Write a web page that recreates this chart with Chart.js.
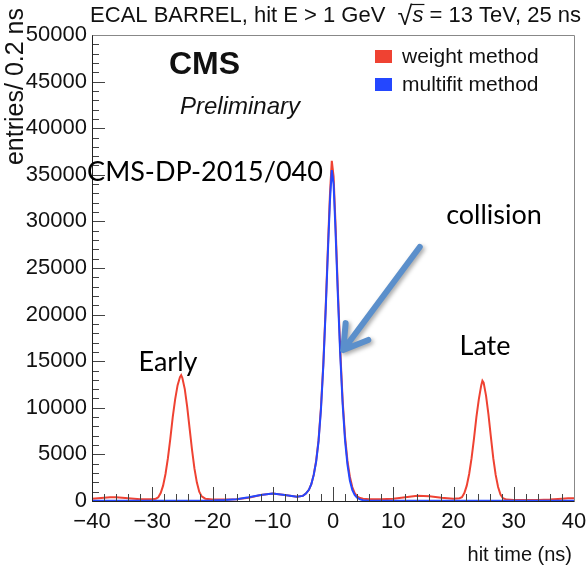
<!DOCTYPE html>
<html>
<head>
<meta charset="utf-8">
<script src="https://cdn.jsdelivr.net/npm/chart.js@4.4.0/dist/chart.umd.min.js"></script>
<style>
  html, body { margin: 0; padding: 0; background: #fff; }
  #wrap { width: 587px; height: 571px; position: relative; }
</style>
</head>
<body>
<div id="wrap"><canvas id="hitTimeChart"></canvas></div>
<script>
// hit time distribution, ECAL barrel
var weightTimes = [
  -40, -39, -38, -37, -36, -35, -34, -33, -32, -31, -30, -29.4,
  -29, -28.6, -28.2, -27.8, -27.4, -27, -26.6, -26.2, -25.8, -25.4, -25.2, -25, -24.6, -24.2,
  -23.8, -23.4, -23, -22.6, -22.2, -21.8, -21.2, -20, -18, -16, -14, -12, -10, -8, -6,
  -5, -4.5, -4, -3.6, -3.2, -2.8, -2.4, -2, -1.6, -1.2, -0.8, -0.5, -0.2,
  0.1, 0.4, 0.8, 1.2, 1.6, 2, 2.4, 2.8, 3.2, 3.6, 4, 4.5, 5, 6, 8, 10, 12, 14, 16, 18, 20,
  21, 21.4, 21.8, 22.2, 22.6, 23, 23.4, 23.8, 24.2, 24.6, 24.8, 25, 25.4, 25.8, 26.2, 26.6,
  27, 27.4, 27.8, 28.2, 28.8, 30, 32, 34, 36, 38, 39, 40
];
var weightCounts = [
  250, 300, 350, 400, 400, 350, 300, 250, 200, 200, 200, 250,
  400, 850, 1650, 2900, 4600, 6700, 9000, 10900, 12400, 13300, 13500, 13200, 12000, 10100,
  7800, 5500, 3500, 2000, 1000, 500, 250, 150, 150, 200, 350, 650, 800, 650, 450,
  550, 800, 1200, 1800, 2800, 4300, 6500, 10000, 14800, 21000, 28000, 33000, 36500,
  34800, 30000, 22800, 16200, 10800, 6900, 4300, 2600, 1500, 850, 500, 320, 250, 200, 200, 250, 400, 550, 500, 350, 250,
  300, 400, 850, 1650, 2900, 4600, 6700, 9000, 10900, 12400, 12900, 12700, 11300, 9300, 6900, 4600,
  2800, 1500, 700, 300, 150, 100, 100, 100, 150, 250, 300, 300
];
var multifitTimes = [
  -40, -30, -20, -18, -16, -14, -12, -10, -8, -6,
  -5, -4.5, -4, -3.6, -3.2, -2.8, -2.4, -2, -1.6, -1.2, -0.8, -0.5, -0.2,
  0.1, 0.4, 0.8, 1.2, 1.6, 2, 2.4, 2.8, 3.2, 3.6, 4, 4.5, 5, 6, 40
];
var multifitCounts = [
  30, 30, 50, 100, 200, 400, 650, 800, 650, 450,
  550, 800, 1200, 1800, 2800, 4200, 6400, 9800, 14600, 20700, 27500, 32300, 35500,
  34000, 29300, 22200, 15700, 10400, 6500, 3900, 2200, 1200, 650, 350, 170, 80, 40, 30
];
var xTicks = [-40, -30, -20, -10, 0, 10, 20, 30, 40];
var yTicks = [0, 5000, 10000, 15000, 20000, 25000, 30000, 35000, 40000, 45000, 50000];

var RED = '#ef4232';
var BLUE = '#2447ff';
var rootFont = '"Liberation Sans", Arial, sans-serif';
var noteFont = 'Lato, "Open Sans", sans-serif';

function toPoints(xs, ys) {
  return xs.map(function(x, i) { return { x: x, y: ys[i] }; });
}

function fmtTick(v) {
  return v < 0 ? '\u2212' + Math.abs(v) : String(v);
}

// ROOT style frame, inward ticks, labels and the arrow
var rootDecor = {
  id: 'rootDecor',
  afterDatasetsDraw: function(chart) {
    var ctx = chart.ctx;
    var a = chart.chartArea;
    var xs = chart.scales.x;
    var ys = chart.scales.y;
    ctx.save();

    // ticks
    ctx.strokeStyle = '#444';
    ctx.lineWidth = 1;
    ctx.beginPath();
    for (var t = -40; t <= 40; t += 2) {
      var px = Math.round(xs.getPixelForValue(t)) + 0.5;
      var len = (t % 10 === 0) ? 14 : 7;
      ctx.moveTo(px, a.bottom);
      ctx.lineTo(px, a.bottom - len);
    }
    for (var v = 0; v <= 50000; v += 1000) {
      var py = Math.round(ys.getPixelForValue(v)) + 0.5;
      var l2 = (v % 5000 === 0) ? 13 : 7;
      ctx.moveTo(a.left, py);
      ctx.lineTo(a.left + l2, py);
    }
    ctx.stroke();

    // frame
    ctx.strokeStyle = '#888';
    ctx.beginPath();
    ctx.moveTo(Math.round(a.left) + 0.5, Math.round(a.top) + 0.5);
    ctx.lineTo(Math.round(a.right) + 0.5, Math.round(a.top) + 0.5);
    ctx.lineTo(Math.round(a.right) + 0.5, Math.round(a.bottom) + 0.5);
    ctx.stroke();
    ctx.strokeStyle = '#222';
    ctx.beginPath();
    ctx.moveTo(Math.round(a.left) + 0.5, Math.round(a.top) + 0.5);
    ctx.lineTo(Math.round(a.left) + 0.5, Math.round(a.bottom) + 0.5);
    ctx.lineTo(Math.round(a.right) + 0.5, Math.round(a.bottom) + 0.5);
    ctx.stroke();

    // title, right aligned
    ctx.fillStyle = '#111';
    ctx.textBaseline = 'alphabetic';
    var p1 = 'ECAL BARREL, hit E > 1 GeV  ';
    var p3 = ' = 13 TeV, 25 ns';
    ctx.font = '22px ' + rootFont;
    var w1 = ctx.measureText(p1).width;
    var w3 = ctx.measureText(p3).width;
    ctx.font = '27px ' + rootFont;
    var wr = ctx.measureText('\u221A').width;
    ctx.font = 'italic 22px ' + rootFont;
    var ws = ctx.measureText('s').width;
    var x0 = 581 - (w1 + wr + ws + w3);
    var base = 22;
    ctx.font = '22px ' + rootFont;
    ctx.fillText(p1, x0, base);
    ctx.font = '27px ' + rootFont;
    ctx.fillText('\u221A', x0 + w1, base + 3);
    ctx.font = 'italic 22px ' + rootFont;
    ctx.fillText('s', x0 + w1 + wr, base);
    ctx.beginPath();
    ctx.lineWidth = 1.2;
    ctx.strokeStyle = '#111';
    ctx.moveTo(x0 + w1 + wr - 1, 4.5);
    ctx.lineTo(x0 + w1 + wr + ws + 1, 4.5);
    ctx.stroke();
    ctx.font = '22px ' + rootFont;
    ctx.fillText(p3, x0 + w1 + wr + ws, base);

    // axis titles
    ctx.textAlign = 'right';
    ctx.textBaseline = 'middle';
    ctx.font = '20px ' + rootFont;
    ctx.fillText('hit time (ns)', 572, 555);
    ctx.save();
    ctx.font = '25px ' + rootFont;
    ctx.translate(16, 8);
    ctx.rotate(-Math.PI / 2);
    ctx.fillText('entries/ 0.2 ns', 0, 0);
    ctx.restore();

    // CMS label
    ctx.textAlign = 'left';
    ctx.font = 'bold 32px ' + rootFont;
    ctx.fillText('CMS', 169, 65);
    ctx.font = 'italic 24px ' + rootFont;
    ctx.fillText('Preliminary', 180, 107);

    // legend
    ctx.fillStyle = RED;
    ctx.fillRect(375, 50, 17, 13);
    ctx.fillStyle = BLUE;
    ctx.fillRect(375, 78, 17, 13);
    ctx.fillStyle = '#111';
    ctx.font = '21px ' + rootFont;
    ctx.fillText('weight method', 402, 57);
    ctx.fillText('multifit method', 402, 85);

    // notes
    ctx.fillStyle = '#000';
    ctx.font = '27px ' + noteFont;
    ctx.textAlign = 'center';
    ctx.fillText('CMS-DP-2015/040', 205, 172);
    ctx.fillText('collision', 494, 215);
    ctx.fillText('Early', 168, 362);
    ctx.fillText('Late', 485, 346);

    // arrow, in data coordinates
    var tx = xs.getPixelForValue(14.4), ty = ys.getPixelForValue(27250);
    var hx = xs.getPixelForValue(1.7), hy = ys.getPixelForValue(16200);
    var ang = Math.atan2(hy - ty, hx - tx);
    ctx.shadowColor = 'rgba(0,0,0,0.35)';
    ctx.shadowBlur = 4;
    ctx.shadowOffsetX = 2;
    ctx.shadowOffsetY = 2;
    ctx.strokeStyle = '#5b8fcb';
    ctx.lineWidth = 6;
    ctx.lineCap = 'round';
    ctx.lineJoin = 'round';
    ctx.beginPath();
    ctx.moveTo(tx, ty);
    ctx.lineTo(hx, hy);
    ctx.moveTo(hx - 27 * Math.cos(ang - 0.55), hy - 27 * Math.sin(ang - 0.55));
    ctx.lineTo(hx, hy);
    ctx.lineTo(hx - 27 * Math.cos(ang + 0.55), hy - 27 * Math.sin(ang + 0.55));
    ctx.stroke();

    ctx.restore();
  }
};

var ctx = document.getElementById('hitTimeChart').getContext('2d');
new Chart(ctx, {
  type: 'line',
  data: {
    datasets: [
      {
        label: 'weight method',
        data: toPoints(weightTimes, weightCounts),
        borderColor: RED,
        borderWidth: 2,
        pointRadius: 0,
        tension: 0,
        fill: false,
        order: 2
      },
      {
        label: 'multifit method',
        data: toPoints(multifitTimes, multifitCounts),
        borderColor: BLUE,
        borderWidth: 2,
        pointRadius: 0,
        tension: 0,
        fill: false,
        order: 1
      }
    ]
  },
  options: {
    responsive: true,
    maintainAspectRatio: false,
    animation: false,
    layout: { padding: { top: 35, right: 13, left: 0, bottom: 0 } },
    plugins: {
      legend: { display: false },
      tooltip: { enabled: false }
    },
    scales: {
      x: {
        type: 'linear',
        min: -40,
        max: 40,
        grid: { display: false },
        border: { display: false },
        afterBuildTicks: function(s) { s.ticks = xTicks.map(function(v) { return { value: v }; }); },
        afterFit: function(s) { s.height = 70; },
        ticks: {
          padding: 0,
          maxRotation: 0,
          color: '#111',
          font: { family: rootFont, size: 22 },
          callback: fmtTick
        }
      },
      y: {
        min: 0,
        max: 50000,
        grid: { display: false },
        border: { display: false },
        afterBuildTicks: function(s) { s.ticks = yTicks.map(function(v) { return { value: v }; }); },
        afterFit: function(s) { s.width = 92; },
        ticks: {
          padding: -3,
          color: '#111',
          font: { family: rootFont, size: 22 },
          callback: fmtTick
        }
      }
    }
  },
  plugins: [rootDecor]
});
</script>
</body>
</html>
